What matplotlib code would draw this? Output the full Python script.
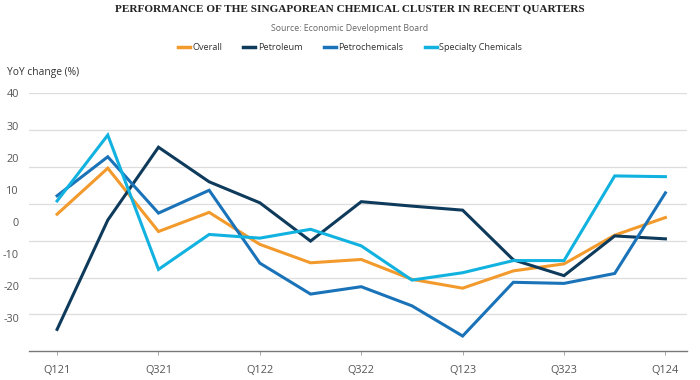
import matplotlib
matplotlib.use("Agg")
import matplotlib.pyplot as plt
from matplotlib import font_manager
from matplotlib.lines import Line2D


def pick_font(families, default="DejaVu Sans"):
    ## first installed family wins
    for fam in families:
        try:
            font_manager.findfont(fam, fallback_to_default=False)
            return fam
        except ValueError:
            pass
    return default


## Data (YoY change, %)
quarters = ["Q121", "Q221", "Q321", "Q421", "Q122", "Q222", "Q322",
            "Q422", "Q123", "Q223", "Q323", "Q423", "Q124"]
overall = [7.2, 19.7, 2.5, 7.7, -1.0, -6.0, -5.1, -10.5, -12.9, -8.2, -6.3, 1.5, 6.3]
petroleum = [-24.1, 5.6, 25.4, 16.0, 10.3, -0.1, 10.6, 9.4, 8.3, -5.2, -9.5, 1.3, 0.5]
petrochemicals = [12.2, 22.8, 7.5, 13.7, -6.1, -14.5, -12.5, -17.7, -25.9, -11.3, -11.6, -8.9, 13.0]
specialty = [10.8, 28.7, -7.8, 1.7, 0.7, 3.1, -1.4, -10.7, -8.7, -5.4, -5.4, 17.6, 17.4]

series_names = ["Overall", "Petroleum", "Petrochemicals", "Specialty Chemicals"]
series_values = [overall, petroleum, petrochemicals, specialty]
series_colors = ["#F39A2C", "#0E3A5B", "#1A73B8", "#12B2E0"]

y_labels = [40, 30, 20, 10, 0, -10, -20, -30]

sans = pick_font(["Open Sans", "DejaVu Sans"])
serif = pick_font(["Liberation Serif", "DejaVu Serif"])

fig = plt.figure(figsize=(7, 3.8), dpi=100)
ax = fig.add_axes([0.041, 0.076, 0.94, 0.678])

x = list(range(len(quarters)))
for name, vals, col in zip(series_names, series_values, series_colors):
    ax.plot(x, vals, color=col, lw=2.2, solid_joinstyle="miter", label=name)

ax.set_xlim(-0.56, 12.42)
ax.set_ylim(-30, 40)

## gridlines
ax.set_yticks([40, 30, 20, 10, 0, -10, -20])
ax.yaxis.grid(True, color="#DDDDDD", lw=0.9)
ax.set_axisbelow(True)
ax.tick_params(axis="y", length=0, labelleft=False)

ax.set_xticks(x[::2])
ax.set_xticklabels(quarters[::2], fontsize=7.8, color="#555555", family=sans)
ax.tick_params(axis="x", length=3, width=0.6, color="#999999", pad=7)

for s in ["top", "right", "left"]:
    ax.spines[s].set_visible(False)
ax.spines["bottom"].set_color("#777777")
ax.spines["bottom"].set_linewidth(1.0)

## value labels sit on their own spacing in the original chart
ratio = 0.872
sec = ax.secondary_yaxis("left",
                         functions=(lambda v: 40 - (40 - v) / ratio,
                                    lambda l: 40 - (40 - l) * ratio))
sec.set_yticks(y_labels)
sec.set_yticklabels([str(v) for v in y_labels], fontsize=7.8, color="#555555", family=sans)
sec.tick_params(length=0, pad=7)
sec.spines["left"].set_visible(False)

fig.text(0.01, 0.81, "YoY change (%)", fontsize=7.4, color="#333333",
         family=sans, ha="left", va="center")

fig.text(0.5, 0.976, "PERFORMANCE OF THE SINGAPOREAN CHEMICAL CLUSTER IN RECENT QUARTERS",
         fontsize=8.1, fontweight="bold", family=serif, color="#222222",
         ha="center", va="center")
fig.text(0.5, 0.926, "Source: Economic Development Board", fontsize=6.3,
         color="#666666", family=sans, ha="center", va="center")

handles = [Line2D([0], [0], color=c, lw=2.5) for c in series_colors]
fig.legend(handles, series_names, loc="center", bbox_to_anchor=(0.5, 0.874),
           ncol=4, frameon=False, handlelength=1.3, handletextpad=0.3,
           columnspacing=2.3, prop={"family": sans, "size": 6.6},
           labelcolor="#333333")

fig.savefig("out.png", dpi=100)
